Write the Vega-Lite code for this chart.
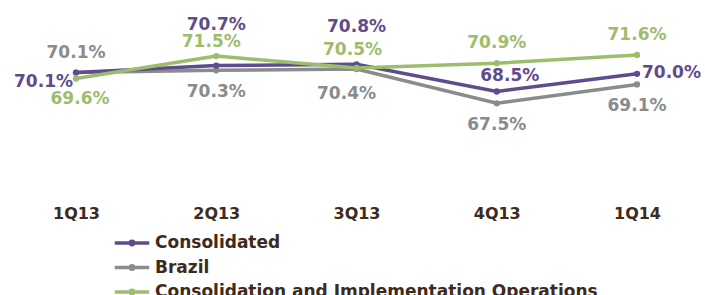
{
  "$schema": "https://vega.github.io/schema/vega-lite/v6.json",
  "autosize": {"type": "none"},
  "padding": {"left": 0, "top": 3, "right": 0, "bottom": 115},
  "width": 705,
  "height": 177,
  "background": "white",
  "config": {"view": {"stroke": null}},
  "data": {
    "values": [
      {"quarter": "1Q13", "series": "Brazil", "value": 70.1},
      {"quarter": "2Q13", "series": "Brazil", "value": 70.3},
      {"quarter": "3Q13", "series": "Brazil", "value": 70.4},
      {"quarter": "4Q13", "series": "Brazil", "value": 67.5},
      {"quarter": "1Q14", "series": "Brazil", "value": 69.1},
      {"quarter": "1Q13", "series": "Consolidated", "value": 70.1},
      {"quarter": "2Q13", "series": "Consolidated", "value": 70.7},
      {"quarter": "3Q13", "series": "Consolidated", "value": 70.8},
      {"quarter": "4Q13", "series": "Consolidated", "value": 68.5},
      {"quarter": "1Q14", "series": "Consolidated", "value": 70.0},
      {"quarter": "1Q13", "series": "Consolidation and Implementation Operations", "value": 69.6},
      {"quarter": "2Q13", "series": "Consolidation and Implementation Operations", "value": 71.5},
      {"quarter": "3Q13", "series": "Consolidation and Implementation Operations", "value": 70.5},
      {"quarter": "4Q13", "series": "Consolidation and Implementation Operations", "value": 70.9},
      {"quarter": "1Q14", "series": "Consolidation and Implementation Operations", "value": 71.6}
    ]
  },
  "encoding": {
    "x": {
      "field": "quarter", "type": "ordinal", "sort": null,
      "scale": {"type": "point", "range": [76, 637], "padding": 0},
      "axis": {"title": null, "domain": false, "ticks": false, "grid": false, "labelAngle": 0,
        "labelFont": "DejaVu Sans", "labelFontWeight": "bold", "labelFontSize": 16,
        "labelColor": "#3d2b20", "labelPadding": 25}
    },
    "y": {
      "field": "value", "type": "quantitative",
      "scale": {"domain": [61, 76], "zero": false, "nice": false},
      "axis": null
    },
    "color": {
      "field": "series", "type": "nominal",
      "scale": {
        "domain": ["Consolidated", "Brazil", "Consolidation and Implementation Operations"],
        "range": ["#5f4c8c", "#8a8b8d", "#9dbd6c"]
      }
    }
  },
  "layer": [
    {
      "mark": {"type": "line", "strokeWidth": 3.5, "point": {"filled": true, "size": 40}},
      "encoding": {
        "color": {
          "field": "series", "type": "nominal",
          "legend": {
            "title": null, "orient": "none", "legendX": 113, "legendY": 232, "padding": 0,
            "symbolType": "M-1,0H1M-0.1,0a0.1,0.1 0 1,0 0.2,0a0.1,0.1 0 1,0 -0.2,0",
            "symbolSize": 1190, "symbolStrokeWidth": 3.5, "clipHeight": 16, "rowPadding": 7.5,
            "labelFont": "DejaVu Sans", "labelFontWeight": "bold",
            "labelFontSize": 17, "labelColor": "#3d2b20", "labelOffset": 4, "labelLimit": 600
          }
        }
      }
    },
    {
      "transform": [{"filter": "datum.series == 'Consolidated' && datum.quarter == '1Q13'"}],
      "mark": {"type": "text", "text": {"expr": "format(datum.value, '.1f') + '%'"}, "font": "DejaVu Sans", "fontWeight": "bold", "fontSize": 17, "align": "right", "baseline": "middle", "dx": -3, "dy": 9},
      "encoding": {"color": {"field": "series", "type": "nominal", "legend": null}}
    },
    {
      "transform": [{"filter": "datum.series == 'Consolidated' && datum.quarter == '2Q13'"}],
      "mark": {"type": "text", "text": {"expr": "format(datum.value, '.1f') + '%'"}, "font": "DejaVu Sans", "fontWeight": "bold", "fontSize": 17, "baseline": "middle", "dy": -41},
      "encoding": {"color": {"field": "series", "type": "nominal", "legend": null}}
    },
    {
      "transform": [{"filter": "datum.series == 'Consolidated' && datum.quarter == '3Q13'"}],
      "mark": {"type": "text", "text": {"expr": "format(datum.value, '.1f') + '%'"}, "font": "DejaVu Sans", "fontWeight": "bold", "fontSize": 17, "baseline": "middle", "dy": -37},
      "encoding": {"color": {"field": "series", "type": "nominal", "legend": null}}
    },
    {
      "transform": [{"filter": "datum.series == 'Consolidated' && datum.quarter == '4Q13'"}],
      "mark": {"type": "text", "text": {"expr": "format(datum.value, '.1f') + '%'"}, "font": "DejaVu Sans", "fontWeight": "bold", "fontSize": 17, "baseline": "middle", "dx": 13, "dy": -16},
      "encoding": {"color": {"field": "series", "type": "nominal", "legend": null}}
    },
    {
      "transform": [{"filter": "datum.series == 'Consolidated' && datum.quarter == '1Q14'"}],
      "mark": {"type": "text", "text": {"expr": "format(datum.value, '.1f') + '%'"}, "font": "DejaVu Sans", "fontWeight": "bold", "fontSize": 17, "align": "left", "baseline": "middle", "dx": 5, "dy": -1},
      "encoding": {"color": {"field": "series", "type": "nominal", "legend": null}}
    },
    {
      "transform": [{"filter": "(datum.series == 'Brazil' && datum.quarter == '1Q13') || (datum.series == 'Consolidation and Implementation Operations' && (datum.quarter == '4Q13' || datum.quarter == '1Q14'))"}],
      "mark": {"type": "text", "text": {"expr": "format(datum.value, '.1f') + '%'"}, "font": "DejaVu Sans", "fontWeight": "bold", "fontSize": 17, "baseline": "middle", "dy": -20},
      "encoding": {"color": {"field": "series", "type": "nominal", "legend": null}}
    },
    {
      "transform": [{"filter": "datum.series == 'Brazil' && (datum.quarter == '2Q13' || datum.quarter == '4Q13' || datum.quarter == '1Q14')"}],
      "mark": {"type": "text", "text": {"expr": "format(datum.value, '.1f') + '%'"}, "font": "DejaVu Sans", "fontWeight": "bold", "fontSize": 17, "baseline": "middle", "dy": 22},
      "encoding": {"color": {"field": "series", "type": "nominal", "legend": null}}
    },
    {
      "transform": [{"filter": "datum.series == 'Brazil' && datum.quarter == '3Q13'"}],
      "mark": {"type": "text", "text": {"expr": "format(datum.value, '.1f') + '%'"}, "font": "DejaVu Sans", "fontWeight": "bold", "fontSize": 17, "baseline": "middle", "dx": -10, "dy": 25},
      "encoding": {"color": {"field": "series", "type": "nominal", "legend": null}}
    },
    {
      "transform": [{"filter": "datum.series == 'Consolidation and Implementation Operations' && datum.quarter == '1Q13'"}],
      "mark": {"type": "text", "text": {"expr": "format(datum.value, '.1f') + '%'"}, "font": "DejaVu Sans", "fontWeight": "bold", "fontSize": 17, "baseline": "middle", "dx": 4, "dy": 20},
      "encoding": {"color": {"field": "series", "type": "nominal", "legend": null}}
    },
    {
      "transform": [{"filter": "datum.series == 'Consolidation and Implementation Operations' && datum.quarter == '2Q13'"}],
      "mark": {"type": "text", "text": {"expr": "format(datum.value, '.1f') + '%'"}, "font": "DejaVu Sans", "fontWeight": "bold", "fontSize": 17, "baseline": "middle", "dx": -5, "dy": -14},
      "encoding": {"color": {"field": "series", "type": "nominal", "legend": null}}
    },
    {
      "transform": [{"filter": "datum.series == 'Consolidation and Implementation Operations' && datum.quarter == '3Q13'"}],
      "mark": {"type": "text", "text": {"expr": "format(datum.value, '.1f') + '%'"}, "font": "DejaVu Sans", "fontWeight": "bold", "fontSize": 17, "baseline": "middle", "dx": -4, "dy": -18},
      "encoding": {"color": {"field": "series", "type": "nominal", "legend": null}}
    }
  ]
}
